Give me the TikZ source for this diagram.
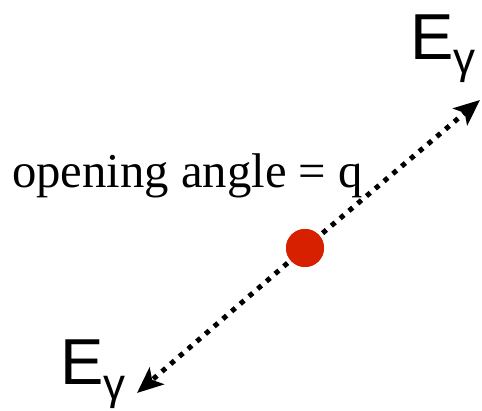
\documentclass[tikz,border=0pt]{standalone}
\usepackage{fontspec}
\setmainfont{Liberation Serif}
\newfontfamily\arialfont{Liberation Sans}
\usetikzlibrary{arrows.meta}
\definecolor{dotred}{RGB}{214,32,0}
\begin{document}
\begin{tikzpicture}[x=1pt,y=-1pt,
  photon/.style={line width=5pt, dash pattern=on 5pt off 6.5pt, -{Stealth[length=26pt,width=22pt,inset=6pt]}},
  energy/.style={inner sep=0, anchor=base west, font=\arialfont\fontsize{65}{65}\selectfont},
  reddot/.style={circle, fill=dotred, minimum size=38pt, inner sep=0}]
\useasboundingbox (0,0) rectangle (482,411);
\coordinate (tipA) at (480,100);
\coordinate (tipB) at (137,393);
\node[reddot] (dot) at (305,248) {};
\draw[photon] (dot.center) -- (tipA);
\draw[photon] (dot.center) -- (tipB);
\node[reddot] at (dot) {};
\node[energy] (E1) at (410,60) {E\raisebox{-14pt}{\fontsize{44}{44}\selectfont γ}};
\node[energy] (E2) at (60,385) {E\raisebox{-14pt}{\fontsize{44}{44}\selectfont γ}};
\node[inner sep=0, anchor=base west, font=\fontsize{48.7}{50}\selectfont] (lbl) at (12,188) {opening angle = q};
\end{tikzpicture}
\end{document}
